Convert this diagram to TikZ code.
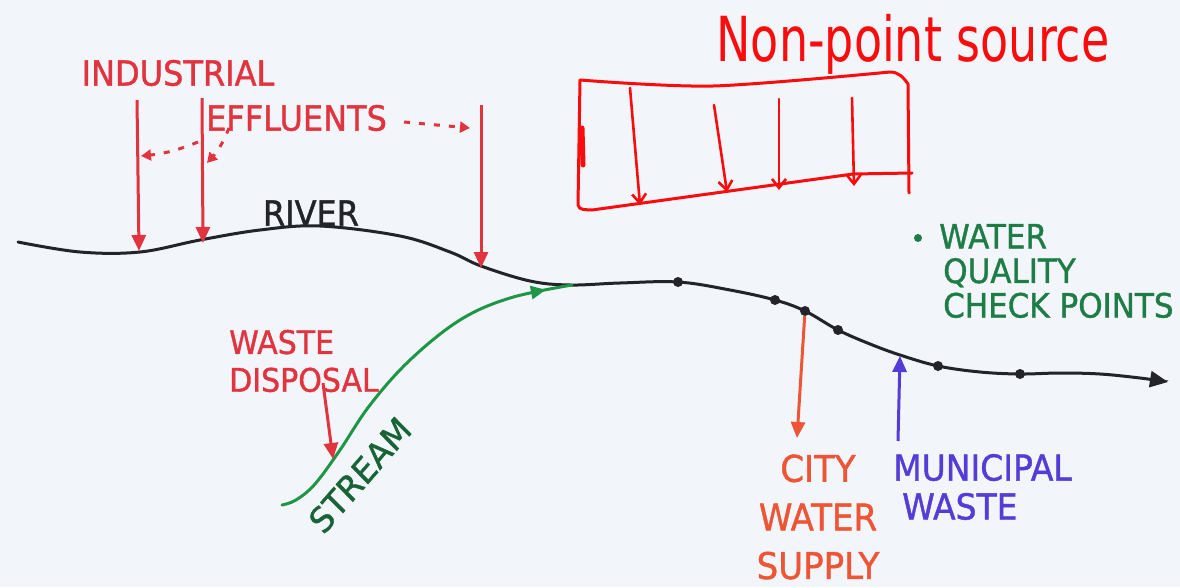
\documentclass[tikz,border=0pt]{standalone}
\usepackage{fontspec}
\setmainfont{DejaVu Sans}
\newfontfamily\markerfont[FakeBold=1.2]{DejaVu Sans}
\usetikzlibrary{arrows.meta,decorations.markings}
\definecolor{bg}{RGB}{242,245,250}
\definecolor{indred}{RGB}{226,52,62}
\definecolor{npred}{RGB}{250,12,12}
\definecolor{riverblk}{RGB}{35,35,42}
\definecolor{streamgreen}{RGB}{30,150,70}
\definecolor{darkgreen}{RGB}{25,100,55}
\definecolor{checkgreen}{RGB}{30,125,70}
\definecolor{cityred}{RGB}{238,85,52}
\definecolor{munblue}{RGB}{85,60,215}
\begin{document}
\begin{tikzpicture}[x=1pt,y=-1pt,
  lbl/.style={inner sep=0pt, yscale=1.08, font=\markerfont\fontsize{32}{36}\selectfont},
  bigarrow/.style={line width=3pt, -{Triangle[length=16pt,width=14pt]}},
  dasharrow/.style={line width=3pt, dash pattern=on 6pt off 9pt, indred, -{Triangle[length=10pt,width=11pt]}},
  riverline/.style={line width=3pt, riverblk, line cap=round},
  streamline/.style={line width=3pt, streamgreen, line cap=round},
  npline/.style={line width=3pt, npred, line cap=round, line join=round},
  nparrow/.style={line width=2.6pt, npred, line cap=round, -{Straight Barb[length=9pt,width=14pt]}},
  cp/.style={circle, fill=riverblk, minimum size=10pt, inner sep=0pt}
]
\fill[bg] (0,0) rectangle (1180,587);
\useasboundingbox (0,0) rectangle (1180,587);

% ---------- river ----------
\draw[riverline, -{Triangle[length=18pt,width=16pt]}] plot[smooth, tension=0.6] coordinates {(18,242) (80,252) (140,252) (200,240) (260,230) (320,226) (400,236) (450,252) (481,266) (530,281) (570,285) (620,283) (678,282) (730,290) (775,300) (805,311) (838,330) (870,344) (900,355) (938,366) (980,372) (1020,374) (1060,373) (1100,374) (1140,378) (1168,382)};
\node[lbl, text=riverblk] (river) at (311,213) {RIVER};

% checkpoints
\node[cp] (cp1) at (678,282) {};
\node[cp] (cp2) at (775,300) {};
\node[cp] (cp3) at (805,311) {};
\node[cp] (cp4) at (838,330) {};
\node[cp] (cp5) at (938,366) {};
\node[cp] (cp6) at (1020,374) {};

% ---------- stream ----------
\draw[streamline, postaction={decorate}, decoration={markings, mark=at position 0.93 with {\arrow{Triangle[length=15pt,width=13pt]}}}]
  plot[smooth, tension=0.6] coordinates {(282,505) (296,500) (315,484) (340,450) (370,405) (410,360) (460,320) (510,298) (572,285)};
\node[lbl, text=darkgreen, rotate=47] (stream) at (360,475) {STREAM};

% ---------- industrial effluents ----------
\node[lbl, text=indred] (ind) at (178,73) {INDUSTRIAL};
\node[lbl, text=indred, anchor=west] (eff) at (206,118) {EFFLUENTS};
\coordinate (a1s) at (137,100); \coordinate (a1e) at (139,251);
\coordinate (a2s) at (202,98);  \coordinate (a2e) at (203,243);
\coordinate (a3s) at (481,105); \coordinate (a3e) at (481,268);
\draw[bigarrow, indred] (a1s) -- (a1e);
\draw[bigarrow, indred] (a2s) -- (a2e);
\draw[bigarrow, indred] (a3s) -- (a3e);
\coordinate (d1s) at (404,122); \coordinate (d1e) at (470,128);
\coordinate (d2s) at (229,128); \coordinate (d2e) at (207,163);
\coordinate (d3s) at (198,142); \coordinate (d3e) at (141,156);
\draw[dasharrow] (d1s) -- (d1e);
\draw[dasharrow] (d2s) to[bend left=10] (d2e);
\draw[dasharrow] (d3s) to[bend left=8] (d3e);

% ---------- waste disposal ----------
\node[lbl, text=indred, anchor=west, align=left, font=\markerfont\fontsize{30}{35}\selectfont] (wd) at (229,361) {WASTE\\DISPOSAL};
\coordinate (wds) at (323,383); \coordinate (wde) at (333,459);
\draw[bigarrow, indred] (wds) -- (wde);

% ---------- city water supply ----------
\coordinate (cws) at (797,438);
\draw[bigarrow, cityred] (cp3) -- (cws);
\node[lbl, text=cityred, align=center, font=\markerfont\fontsize{34}{45}\selectfont] (city) at (818,517) {CITY\\WATER\\SUPPLY};

% ---------- municipal waste ----------
\coordinate (mws) at (898,441); \coordinate (mwe) at (900,356);
\draw[bigarrow, munblue] (mws) -- (mwe);
\node[lbl, text=munblue, anchor=west, align=left, font=\markerfont\fontsize{33}{36}\selectfont] (mun) at (893,487) {MUNICIPAL\\\hspace{9pt}WASTE};

% ---------- legend ----------
\node[circle, fill=checkgreen, minimum size=8pt, inner sep=0pt] (ld) at (918,238) {};
\node[lbl, text=checkgreen, anchor=west, align=left, font=\markerfont\fontsize{31}{32}\selectfont] (legend) at (939,271) {WATER\\\hspace{4pt}QUALITY\\\hspace{4pt}CHECK POINTS};

% ---------- non-point source ----------
\node[inner sep=0pt, text=npred, yscale=1.35, font=\fontsize{46}{50}\selectfont] (nps) at (913,44) {Non-point source};
\draw[npline] plot[smooth, tension=0.5] coordinates {(580,80) (713,86) (890,72)} to[out=0,in=125] (908,84) -- (909,193);
\draw[npline] (580,80) -- (578,205) to[out=-80,in=175] (592,210) -- (853,174) -- (912,173);
\draw[npline, line width=5pt] (582,128) -- (583,165);
\coordinate (n1s) at (630,88);  \coordinate (n1e) at (640,205);
\coordinate (n2s) at (714,105); \coordinate (n2e) at (727,192);
\coordinate (n3s) at (779,99);  \coordinate (n3e) at (779,190);
\coordinate (n4s) at (852,98);  \coordinate (n4e) at (854,186);
\draw[nparrow] (n1s) -- (n1e);
\draw[nparrow] (n2s) -- (n2e);
\draw[nparrow] (n3s) -- (n3e);
\draw[nparrow] (n4s) -- (n4e);
\end{tikzpicture}
\end{document}
